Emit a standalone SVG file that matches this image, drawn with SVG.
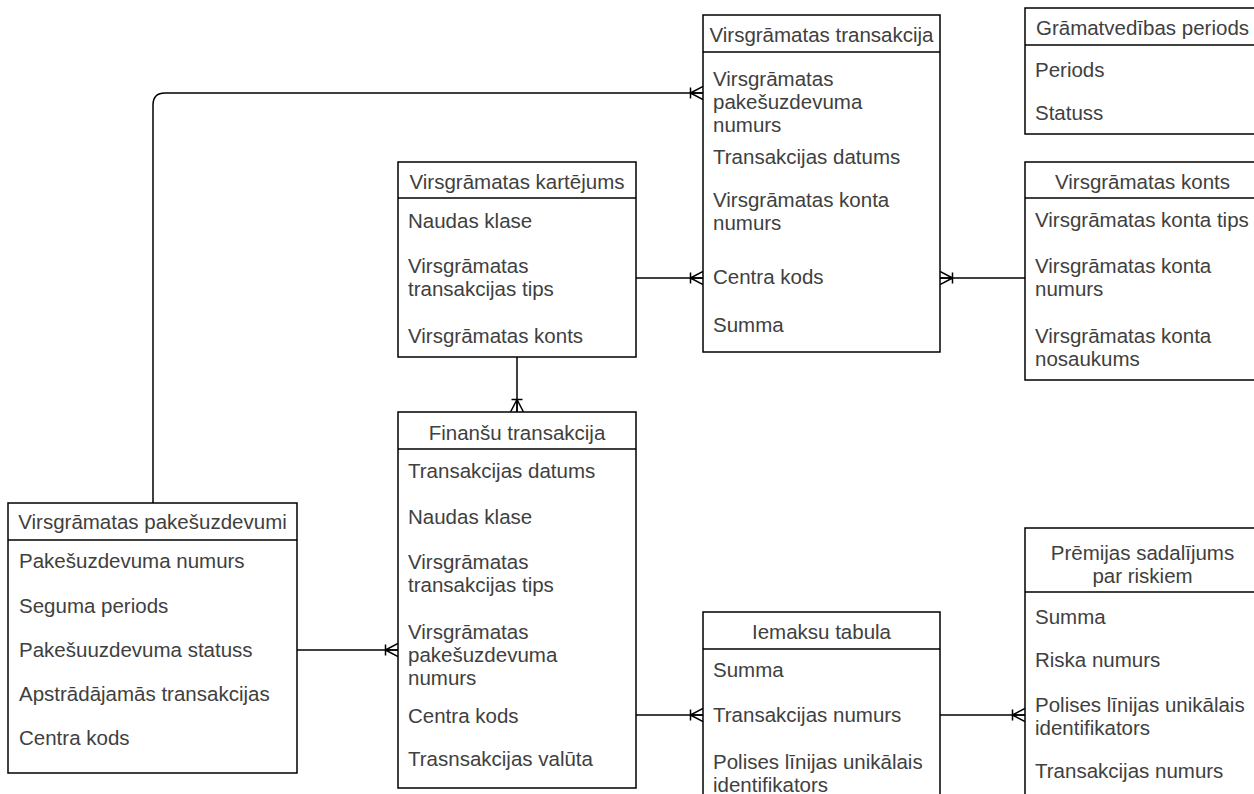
<svg xmlns="http://www.w3.org/2000/svg" width="1254" height="794" viewBox="0 0 1254 794">
<defs>
<style>
.box{fill:#fff;stroke:#000;stroke-width:1.5}
.sep{stroke:#000;stroke-width:1.5;fill:none}
.conn{stroke:#000;stroke-width:1.5;fill:none}
text{font-family:"Liberation Sans",Arial,Helvetica,sans-serif;font-size:20.5px;fill:#404040}
.h{text-anchor:middle}
</style>
<marker id="many" viewBox="0 0 16 16" refX="16" refY="8" markerWidth="16" markerHeight="16" markerUnits="userSpaceOnUse" orient="auto">
<path d="M3.5,8 L16,1.5 M3.5,8 L16,14.5 M3.5,2.5 L3.5,13.5 M3.5,8 L16,8" stroke="#000" stroke-width="1.5" fill="none"/>
</marker>
</defs>
<rect width="1254" height="794" fill="#fff"/>

<g id="connectors">
<path class="conn" d="M153,503 L153,105 Q153,93 165,93 L703,93" marker-end="url(#many)"/>
<path class="conn" d="M636,278 L703,278" marker-end="url(#many)"/>
<path class="conn" d="M1025,278 L940,278" marker-end="url(#many)"/>
<path class="conn" d="M517,357 L517,412" marker-end="url(#many)"/>
<path class="conn" d="M297,650 L398,650" marker-end="url(#many)"/>
<path class="conn" d="M636,715 L703,715" marker-end="url(#many)"/>
<path class="conn" d="M940,715 L1025,715" marker-end="url(#many)"/>
</g>

<g id="virsgramatas-transakcija">
<rect class="box" x="703" y="15" width="237" height="337"/>
<line class="sep" x1="703" y1="52" x2="940" y2="52"/>
<text class="h" x="821.5" y="42">Virsgrāmatas transakcija</text>
<text x="713" y="86">Virsgrāmatas</text>
<text x="713" y="109">pakešuzdevuma</text>
<text x="713" y="132">numurs</text>
<text x="713" y="164">Transakcijas datums</text>
<text x="713" y="207">Virsgrāmatas konta</text>
<text x="713" y="230">numurs</text>
<text x="713" y="284">Centra kods</text>
<text x="713" y="332">Summa</text>
</g>

<g id="gramatvedibas-periods">
<rect class="box" x="1025" y="8" width="235" height="126"/>
<line class="sep" x1="1025" y1="45" x2="1260" y2="45"/>
<text class="h" x="1142.5" y="35">Grāmatvedības periods</text>
<text x="1035" y="77">Periods</text>
<text x="1035" y="120">Statuss</text>
</g>

<g id="virsgramatas-konts">
<rect class="box" x="1025" y="162" width="235" height="218"/>
<line class="sep" x1="1025" y1="198" x2="1260" y2="198"/>
<text class="h" x="1142.5" y="189">Virsgrāmatas konts</text>
<text x="1035" y="227">Virsgrāmatas konta tips</text>
<text x="1035" y="273">Virsgrāmatas konta</text>
<text x="1035" y="296">numurs</text>
<text x="1035" y="343">Virsgrāmatas konta</text>
<text x="1035" y="366">nosaukums</text>
</g>

<g id="virsgramatas-kartejums">
<rect class="box" x="398" y="162" width="238" height="195"/>
<line class="sep" x1="398" y1="198" x2="636" y2="198"/>
<text class="h" x="517" y="189">Virsgrāmatas kartējums</text>
<text x="408" y="228">Naudas klase</text>
<text x="408" y="273">Virsgrāmatas</text>
<text x="408" y="296">transakcijas tips</text>
<text x="408" y="343">Virsgrāmatas konts</text>
</g>

<g id="finansu-transakcija">
<rect class="box" x="398" y="412" width="238" height="376"/>
<line class="sep" x1="398" y1="449" x2="636" y2="449"/>
<text class="h" x="517" y="440">Finanšu transakcija</text>
<text x="408" y="478">Transakcijas datums</text>
<text x="408" y="524">Naudas klase</text>
<text x="408" y="569">Virsgrāmatas</text>
<text x="408" y="592">transakcijas tips</text>
<text x="408" y="639">Virsgrāmatas</text>
<text x="408" y="662">pakešuzdevuma</text>
<text x="408" y="685">numurs</text>
<text x="408" y="723">Centra kods</text>
<text x="408" y="766">Trasnsakcijas valūta</text>
</g>

<g id="virsgramatas-pakesuzdevumi">
<rect class="box" x="8" y="503" width="289" height="270"/>
<line class="sep" x1="8" y1="540" x2="297" y2="540"/>
<text class="h" x="152.5" y="529">Virsgrāmatas pakešuzdevumi</text>
<text x="19" y="568">Pakešuzdevuma numurs</text>
<text x="19" y="613">Seguma periods</text>
<text x="19" y="657">Pakešuuzdevuma statuss</text>
<text x="19" y="701">Apstrādājamās transakcijas</text>
<text x="19" y="745">Centra kods</text>
</g>

<g id="iemaksu-tabula">
<rect class="box" x="703" y="612" width="237" height="200"/>
<line class="sep" x1="703" y1="649" x2="940" y2="649"/>
<text class="h" x="821.5" y="639">Iemaksu tabula</text>
<text x="713" y="677">Summa</text>
<text x="713" y="722">Transakcijas numurs</text>
<text x="713" y="769">Polises līnijas unikālais</text>
<text x="713" y="792">identifikators</text>
</g>

<g id="premijas-sadalijums">
<rect class="box" x="1025" y="528" width="235" height="290"/>
<line class="sep" x1="1025" y1="592" x2="1260" y2="592"/>
<text class="h" x="1142.5" y="560">Prēmijas sadalījums</text>
<text class="h" x="1142.5" y="583">par riskiem</text>
<text x="1035" y="624">Summa</text>
<text x="1035" y="667">Riska numurs</text>
<text x="1035" y="712">Polises līnijas unikālais</text>
<text x="1035" y="735">identifikators</text>
<text x="1035" y="778">Transakcijas numurs</text>
</g>
</svg>
